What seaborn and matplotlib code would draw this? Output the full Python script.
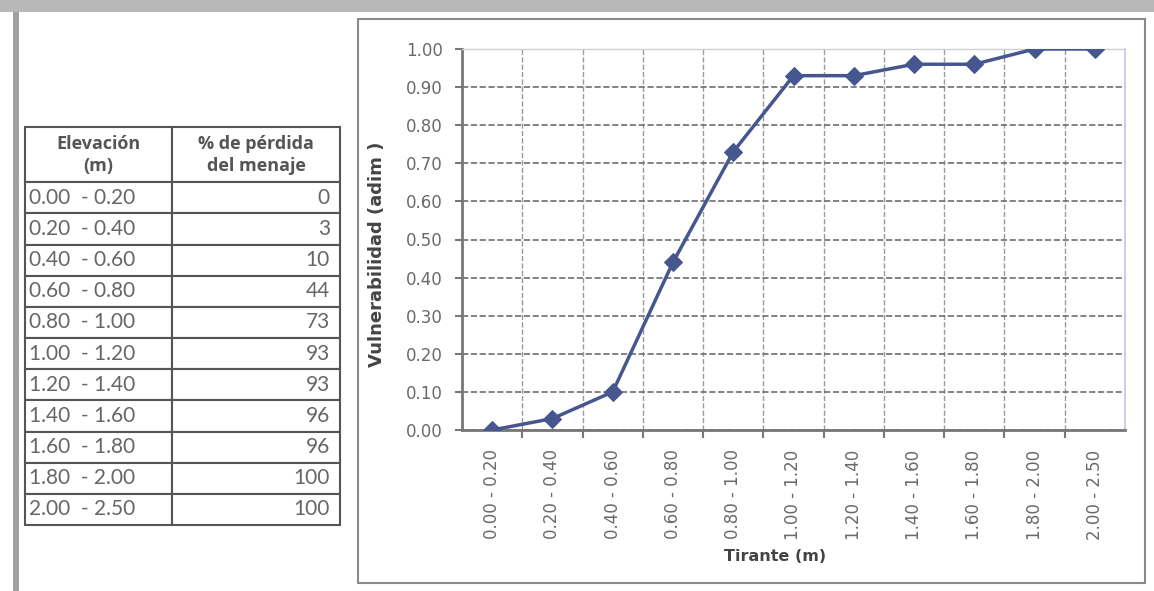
import numpy as np
import matplotlib
matplotlib.use('Agg')
import matplotlib.pyplot as plt
import seaborn as sns
from matplotlib.patches import Rectangle
from matplotlib.table import Table

# Datos
rangos = ['0.00 - 0.20', '0.20 - 0.40', '0.40 - 0.60', '0.60 - 0.80', '0.80 - 1.00', '1.00 - 1.20',
          '1.20 - 1.40', '1.40 - 1.60', '1.60 - 1.80', '1.80 - 2.00', '2.00 - 2.50']
rangos_tabla = ['0.00  - 0.20', '0.20  - 0.40', '0.40  - 0.60', '0.60  - 0.80', '0.80  - 1.00', '1.00  - 1.20',
                '1.20  - 1.40', '1.40  - 1.60', '1.60  - 1.80', '1.80  - 2.00', '2.00  - 2.50']
perdida = [0, 3, 10, 44, 73, 93, 93, 96, 96, 100, 100]
vulnerabilidad = [0.00, 0.03, 0.10, 0.44, 0.73, 0.93, 0.93, 0.96, 0.96, 1.00, 1.00]
encabezados = ['Elevación\n(m)', '% de pérdida\ndel menaje']
y_ticks = [0.0, 0.1, 0.2, 0.3, 0.4, 0.5, 0.6, 0.7, 0.8, 0.9, 1.0]

sns.set_theme(style='white')
plt.rcParams['font.family'] = ['DejaVu Sans']

W, H = 1154, 591
fig = plt.figure(figsize=(W / 100, H / 100), dpi=100)


def fbox(x0, y0, x1, y1):
    # pixel box (top-left origin) -> figure fraction
    return [x0 / W, 1 - y1 / H, (x1 - x0) / W, (y1 - y0) / H]


# marco gris con sombra
fig.patches.append(Rectangle((0, 1 - 12 / H), 1, 12 / H, transform=fig.transFigure,
                             facecolor='#b8b8b8', edgecolor='none', zorder=-2))
fig.patches.append(Rectangle((13 / W, 0), 6 / W, 1 - 12 / H, transform=fig.transFigure,
                             facecolor='#a0a0a0', edgecolor='none', zorder=-2))
# recuadro del gráfico
fig.patches.append(Rectangle((358 / W, 1 - 583 / H), (1145 - 358) / W, (583 - 19) / H,
                             transform=fig.transFigure, facecolor='none',
                             edgecolor='#8a8a8a', linewidth=1.5, zorder=-1))

# --- tabla ---
tax = fig.add_axes(fbox(25, 127, 340, 525))
tax.axis('off')
tbl = Table(tax, bbox=[0, 0, 1, 1])
tbl.auto_set_font_size(False)
anchos = [147, 168]
for c, txt in enumerate(encabezados):
    cell = tbl.add_cell(0, c, anchos[c], 55, text=txt, loc='center')
    cell.set_text_props(fontfamily='Open Sans', fontweight='bold', fontsize=13,
                        color='#555555', linespacing=1.3)
for r, (rng, p) in enumerate(zip(rangos_tabla, perdida), start=1):
    c0 = tbl.add_cell(r, 0, anchos[0], 31, text=rng, loc='left')
    c0.PAD = 0.03
    c1 = tbl.add_cell(r, 1, anchos[1], 31, text=str(p), loc='right')
    c1.PAD = 0.06
    for cell in (c0, c1):
        cell.set_text_props(fontfamily='Lato', fontsize=15, color='#666666')
for cell in tbl.get_celld().values():
    cell.set_edgecolor('#555555')
    cell.set_linewidth(1.5)
tax.add_table(tbl)

# --- gráfico ---
ax = fig.add_axes(fbox(462, 49, 1125, 430))
sns.lineplot(x=rangos, y=vulnerabilidad, sort=False, marker='D', markersize=9.5,
             color='#46578f', markeredgecolor='#46578f', linewidth=2.5, ax=ax, zorder=5)

ax.set_xlim(-0.5, 10.5)
ax.set_ylim(0, 1)
ax.set_yticks(y_ticks)
ax.set_yticklabels([f'{v:.2f}' for v in y_ticks], fontsize=12, color='#6a6a6a')
ax.set_xticks(range(len(rangos)))
ax.set_xticklabels(rangos, rotation=90, fontsize=12, color='#6a6a6a')
ax.set_xticks(np.arange(0.5, 10.5, 1), minor=True)

ax.tick_params(axis='x', which='major', length=0, pad=14)
ax.tick_params(axis='x', which='minor', length=6, width=1.5, color='#777777', direction='out', bottom=True)
ax.tick_params(axis='y', length=5, width=1.5, color='#777777', direction='out', left=True, pad=9)

ax.grid(axis='y', which='major', linestyle='--', color='#6e6e6e', linewidth=1.2)
ax.grid(axis='x', which='minor', linestyle='--', color='#999999', linewidth=1)

for s in ('left', 'bottom'):
    ax.spines[s].set_color('#777777')
    ax.spines[s].set_linewidth(2)
ax.spines['top'].set_color('#d0d0d0')
ax.spines['top'].set_linewidth(1)
ax.spines['right'].set_color('#c4c4ee')
ax.spines['right'].set_linewidth(1.2)

ax.set_xlabel('Tirante (m)', fontweight='bold', fontsize=11.5, color='#444444')
ax.xaxis.set_label_coords(0.472, -0.312)
ax.set_ylabel('Vulnerabilidad (adim )', fontweight='bold', fontsize=13, color='#444444')
ax.yaxis.set_label_coords(-0.115, 0.46)

fig.savefig('out.png', dpi=100)
